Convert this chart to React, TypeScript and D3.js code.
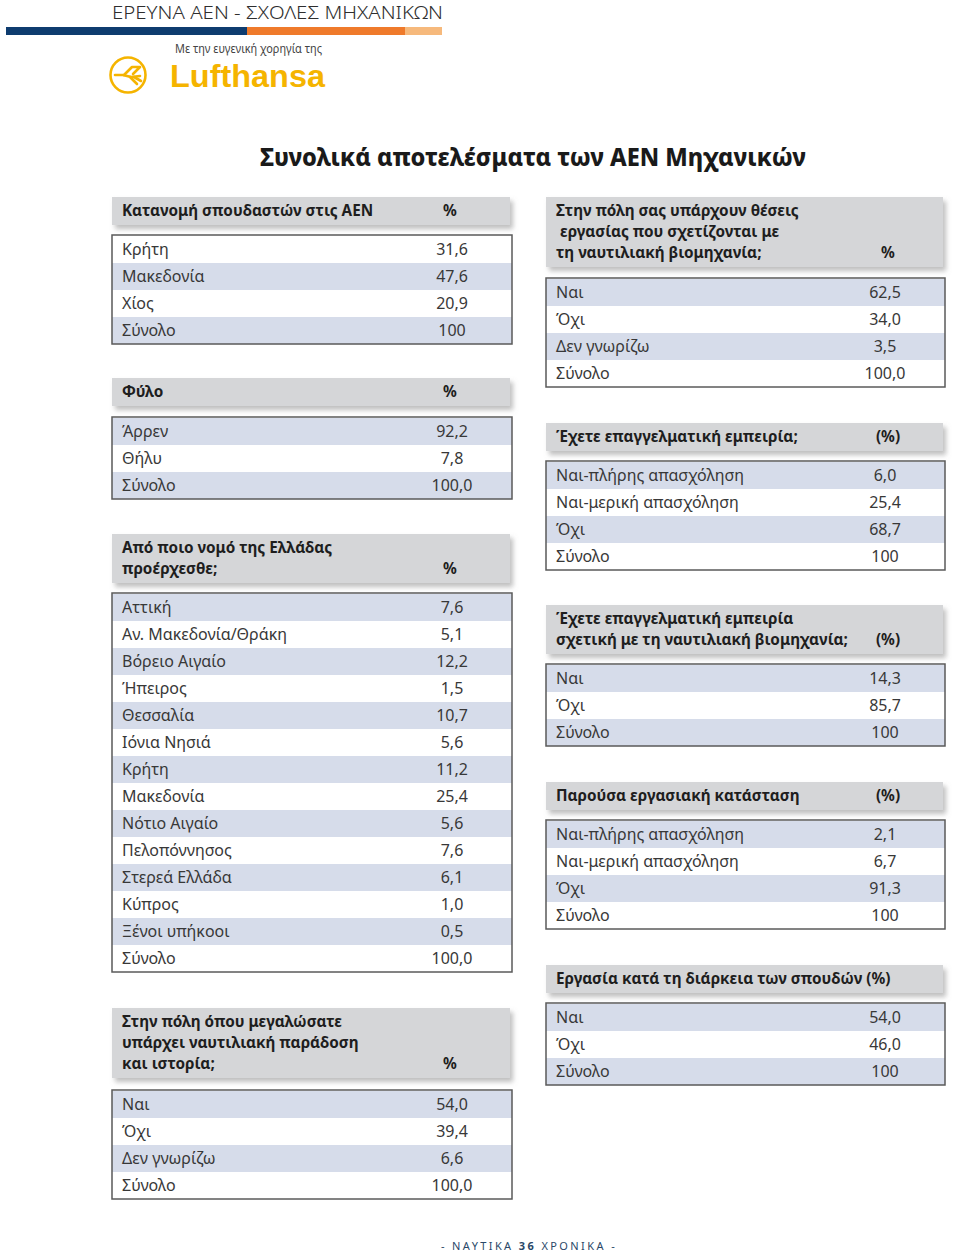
import React from "react";
import * as d3 from "d3";

// ---------- DATA ----------
const pageTitle = "Συνολικά αποτελέσματα των ΑΕΝ Μηχανικών";
const topHeading = "ΕΡΕΥΝΑ ΑΕΝ - ΣΧΟΛΕΣ ΜΗΧΑΝΙΚΩΝ";
const sponsorLine = "Με την ευγενική χορηγία της";
const sponsorName = "Lufthansa";
const footerLeft = "- ΝΑΥΤΙΚΑ ";
const footerNum = "36";
const footerRight = " ΧΡΟΝΙΚΑ -";

const distTitle = ["Κατανομή σπουδαστών στις ΑΕΝ"];
const distLabels = ["Κρήτη", "Μακεδονία", "Χίος", "Σύνολο"];
const distValues = [31.6, 47.6, 20.9, 100];
const distDigits = [1, 1, 1, 0];

const sexTitle = ["Φύλο"];
const sexLabels = ["Άρρεν", "Θήλυ", "Σύνολο"];
const sexValues = [92.2, 7.8, 100.0];
const sexDigits = [1, 1, 1];

const originTitle = ["Από ποιο νομό της Ελλάδας", "προέρχεσθε;"];
const originLabels = [
  "Αττική", "Αν. Μακεδονία/Θράκη", "Βόρειο Αιγαίο", "Ήπειρος", "Θεσσαλία",
  "Ιόνια Νησιά", "Κρήτη", "Μακεδονία", "Νότιο Αιγαίο", "Πελοπόννησος",
  "Στερεά Ελλάδα", "Κύπρος", "Ξένοι υπήκοοι", "Σύνολο",
];
const originValues = [7.6, 5.1, 12.2, 1.5, 10.7, 5.6, 11.2, 25.4, 5.6, 7.6, 6.1, 1.0, 0.5, 100.0];
const originDigits = [1, 1, 1, 1, 1, 1, 1, 1, 1, 1, 1, 1, 1, 1];

const traditionTitle = ["Στην πόλη όπου μεγαλώσατε", "υπάρχει ναυτιλιακή παράδοση", "και ιστορία;"];
const traditionLabels = ["Ναι", "Όχι", "Δεν γνωρίζω", "Σύνολο"];
const traditionValues = [54.0, 39.4, 6.6, 100.0];
const traditionDigits = [1, 1, 1, 1];

const jobsTitle = ["Στην πόλη σας υπάρχουν θέσεις", " εργασίας που σχετίζονται με", "τη ναυτιλιακή βιομηχανία;"];
const jobsLabels = ["Ναι", "Όχι", "Δεν γνωρίζω", "Σύνολο"];
const jobsValues = [62.5, 34.0, 3.5, 100.0];
const jobsDigits = [1, 1, 1, 1];

const experienceTitle = ["Έχετε επαγγελματική εμπειρία;"];
const experienceLabels = ["Ναι-πλήρης απασχόληση", "Ναι-μερική απασχόληση", "Όχι", "Σύνολο"];
const experienceValues = [6.0, 25.4, 68.7, 100];
const experienceDigits = [1, 1, 1, 0];

const maritimeExpTitle = ["Έχετε επαγγελματική εμπειρία", "σχετική με τη ναυτιλιακή βιομηχανία;"];
const maritimeExpLabels = ["Ναι", "Όχι", "Σύνολο"];
const maritimeExpValues = [14.3, 85.7, 100];
const maritimeExpDigits = [1, 1, 0];

const currentWorkTitle = ["Παρούσα εργασιακή κατάσταση"];
const currentWorkLabels = ["Ναι-πλήρης απασχόληση", "Ναι-μερική απασχόληση", "Όχι", "Σύνολο"];
const currentWorkValues = [2.1, 6.7, 91.3, 100];
const currentWorkDigits = [1, 1, 1, 0];

const studyWorkTitle = ["Εργασία κατά τη διάρκεια των σπουδών (%)"];
const studyWorkLabels = ["Ναι", "Όχι", "Σύνολο"];
const studyWorkValues = [54.0, 46.0, 100];
const studyWorkDigits = [1, 1, 0];

// ---------- LAYOUT ----------
const ROW_H = 27;
const LINE_H = 21;
const COLS = {
  left: { x0: 112, x1: 512, labelX: 122, valueX: 452, pctX: 450 },
  right: { x0: 546, x1: 945, labelX: 556, valueX: 885, pctX: 888 },
};

const tables = [
  { col: "left", title: distTitle, pct: "%", labels: distLabels, values: distValues, digits: distDigits, headerTop: 197, bodyTop: 236, firstShaded: false },
  { col: "left", title: sexTitle, pct: "%", labels: sexLabels, values: sexValues, digits: sexDigits, headerTop: 378, bodyTop: 418, firstShaded: true },
  { col: "left", title: originTitle, pct: "%", labels: originLabels, values: originValues, digits: originDigits, headerTop: 534, bodyTop: 594, firstShaded: true },
  { col: "left", title: traditionTitle, pct: "%", labels: traditionLabels, values: traditionValues, digits: traditionDigits, headerTop: 1008, bodyTop: 1091, firstShaded: true },
  { col: "right", title: jobsTitle, pct: "%", labels: jobsLabels, values: jobsValues, digits: jobsDigits, headerTop: 197, bodyTop: 279, firstShaded: true },
  { col: "right", title: experienceTitle, pct: "(%)", labels: experienceLabels, values: experienceValues, digits: experienceDigits, headerTop: 423, bodyTop: 462, firstShaded: true },
  { col: "right", title: maritimeExpTitle, pct: "(%)", labels: maritimeExpLabels, values: maritimeExpValues, digits: maritimeExpDigits, headerTop: 605, bodyTop: 665, firstShaded: true },
  { col: "right", title: currentWorkTitle, pct: "(%)", labels: currentWorkLabels, values: currentWorkValues, digits: currentWorkDigits, headerTop: 782, bodyTop: 821, firstShaded: true },
  { col: "right", title: studyWorkTitle, pct: "", labels: studyWorkLabels, values: studyWorkValues, digits: studyWorkDigits, headerTop: 965, bodyTop: 1004, firstShaded: true },
];

const locale = d3.formatLocale({ decimal: ",", thousands: ".", grouping: [3], currency: ["", "€"] });
const fmt = (v: number, d: number) => locale.format(`.${d}f`)(v);

const FONT = "'Noto Sans', 'DejaVu Sans', sans-serif";
const HEADER_FILL = "#d5d6d8";
const STRIPE_FILL = "#d6dcea";
const BORDER = "#5a5a5a";
const TEXT = "#383838";
const HEAD_TEXT = "#1e1e1e";

function Table({ t }: { t: any }) {
  const c = (COLS as any)[t.col];
  const n = t.labels.length;
  const y = d3.scaleBand<string>().domain(t.labels.map((_: string, i: number) => String(i))).range([t.bodyTop, t.bodyTop + n * ROW_H]);
  const headerH = 28 + (t.title.length - 1) * LINE_H;
  const lastLineY = t.headerTop + 14 + (t.title.length - 1) * LINE_H;
  return (
    <g>
      <rect x={c.x0} y={t.headerTop} width={c.x1 - c.x0 - 2} height={headerH} fill={HEADER_FILL} filter="url(#shadow)" />
      {t.title.map((line: string, i: number) => (
        <text key={i} x={c.labelX} y={t.headerTop + 14 + i * LINE_H} dy="0.35em" fontFamily={FONT} fontWeight={700} fontSize={15.3} fill={HEAD_TEXT} style={{ whiteSpace: "pre" }}>
          {line}
        </text>
      ))}
      {t.pct && (
        <text x={c.pctX} y={lastLineY} dy="0.35em" textAnchor="middle" fontFamily={FONT} fontWeight={700} fontSize={15.3} fill={HEAD_TEXT}>
          {t.pct}
        </text>
      )}
      {t.labels.map((lab: string, i: number) => {
        const shaded = t.firstShaded ? i % 2 === 0 : i % 2 === 1;
        const yy = y(String(i)) as number;
        return (
          <g key={i}>
            {shaded && <rect x={c.x0} y={yy} width={c.x1 - c.x0} height={y.bandwidth()} fill={STRIPE_FILL} />}
            <text x={c.labelX} y={yy + y.bandwidth() / 2} dy="0.36em" fontFamily={FONT} fontSize={16} fill={TEXT}>
              {lab}
            </text>
            <text x={c.valueX} y={yy + y.bandwidth() / 2} dy="0.36em" textAnchor="middle" fontFamily={FONT} fontSize={16} fill={TEXT}>
              {fmt(t.values[i], t.digits[i])}
            </text>
          </g>
        );
      })}
      <rect x={c.x0} y={t.bodyTop - 1} width={c.x1 - c.x0} height={n * ROW_H + 1} fill="none" stroke={BORDER} strokeWidth={1.5} />
    </g>
  );
}

export default function App() {
  return (
    <div style={{ position: "absolute", left: 0, top: 0 }}>
      <svg width={960} height={1256} viewBox="0 0 960 1256" style={{ display: "block", background: "#fff" }}>
        <defs>
          <filter id="shadow" x="-5%" y="-20%" width="115%" height="160%">
            <feDropShadow dx={3} dy={4} stdDeviation={2.5} floodColor="#8a8a8a" floodOpacity={0.55} />
          </filter>
        </defs>
        {/* top heading */}
        <text x={112} y={19} fontFamily={FONT} fontWeight={300} fontSize={18.5} fill="#2e2e2e" textLength={331} lengthAdjust="spacingAndGlyphs">
          {topHeading}
        </text>
        <rect x={6} y={27} width={241} height={8} fill="#0e3c6f" />
        <rect x={247} y={27} width={158} height={8} fill="#ef7a2b" />
        <rect x={405} y={27} width={37} height={8} fill="#f6b97c" />
        {/* sponsor */}
        <text x={175} y={53} fontFamily={FONT} fontSize={12} fill="#444" textLength={147} lengthAdjust="spacingAndGlyphs">
          {sponsorLine}
        </text>
        <g transform="translate(128,75)" fill="none" stroke="#f5b400" strokeWidth={2.6} strokeLinecap="round" strokeLinejoin="round">
          <circle r={17.5} />
          <path d="M-13,0 L-5,0 L3,2 L12,1" />
          <path d="M-4,0 L4,-8 L12,-8 L5,-1" />
          <path d="M2,2 L9,9 M6,2 L13,6" />
        </g>
        <text x={170} y={87} fontFamily="'Liberation Sans', Arial, sans-serif" fontWeight={700} fontSize={32} fill="#f5b400" textLength={155} lengthAdjust="spacingAndGlyphs">
          {sponsorName}
        </text>
        {/* title */}
        <text x={260} y={166} fontFamily={FONT} fontWeight={800} fontSize={24} fill="#1a1a1a" textLength={546} lengthAdjust="spacingAndGlyphs">
          {pageTitle}
        </text>
        {tables.map((t, i) => (
          <Table key={i} t={t} />
        ))}
        {/* footer */}
        <text x={529} y={1250} textAnchor="middle" fontFamily={FONT} fontSize={11} fill="#2a4868" letterSpacing={2.4}>
          {footerLeft}
          <tspan fontWeight={700}>{footerNum}</tspan>
          {footerRight}
        </text>
      </svg>
    </div>
  );
}
